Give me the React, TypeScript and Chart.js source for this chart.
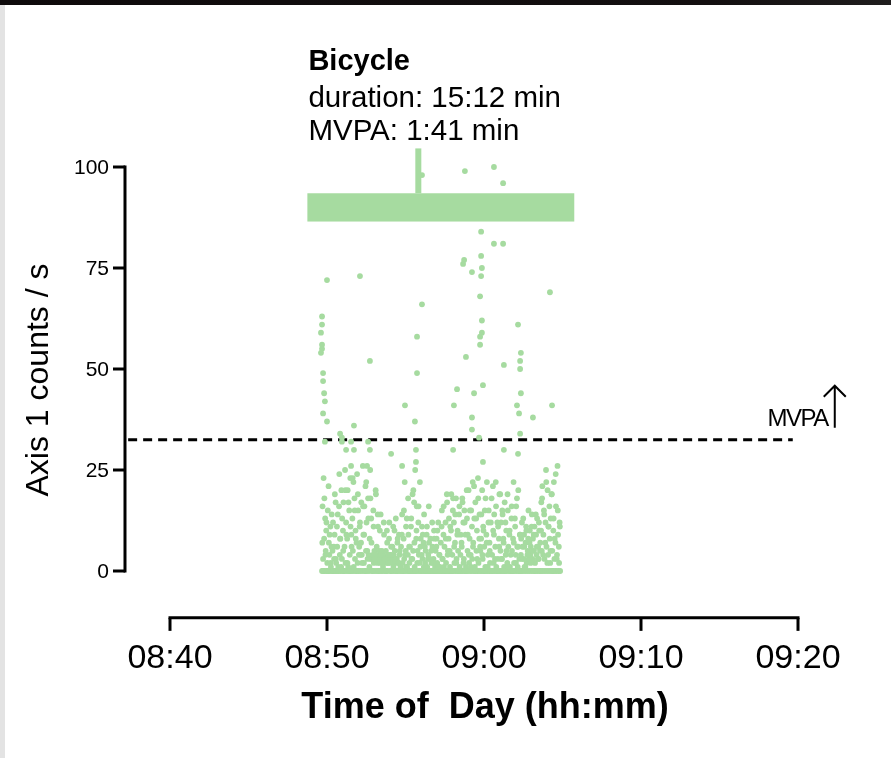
import { useEffect, useRef } from "react";
import { Chart, registerables } from "chart.js";
Chart.register(...registerables);

// Time axis: seconds after 08:40:00
const X_TICK_SEC = [0, 600, 1200, 1800, 2400];
const X_TICK_LABELS = ["08:40", "08:50", "09:00", "09:10", "09:20"];
const Y_TICKS = [0, 25, 50, 75, 100];

// Low-intensity cloud, every 2 s starting 08:49:41
const CLOUD_START_SEC = 581;
const CLOUD_STEP_SEC = 2;
const cloudCounts = [
  0, 16, 3, 23, 8, 0, 13, 5, 10, 0, 2, 15, 0, 7, 4, 0, 11, 1, 6,
  0, 5, 12, 0, 3, 9, 0, 17, 2, 0, 6, 14, 1, 0, 24, 4, 8, 0, 20,
  3, 0, 10, 17, 0, 6, 25, 2, 12, 0, 8, 20, 1, 0, 15, 4, 23, 0, 9,
  0, 13, 5, 22, 0, 18, 3, 10, 0, 7, 24, 2, 15, 0, 6, 11, 0, 4, 17,
  4, 0, 26, 9, 2, 16, 0, 21, 5, 12, 0, 3, 18, 4, 0, 8, 25, 3, 13,
  3, 0, 4, 15, 2, 5, 0, 3, 19, 4, 0, 2, 11, 3, 0, 5, 2, 14, 0,
  3, 2, 0, 4, 12, 3, 0, 2, 5, 3, 10, 0, 4, 2, 8, 3, 0, 4, 6,
  2, 0, 3, 11, 4, 0, 5, 2, 13, 0, 3, 7, 0, 2, 9, 4, 0, 1, 6,
  0, 14, 2, 0, 8, 3, 22, 0, 5, 1, 13, 0, 4, 9, 0, 2, 6, 0, 11,
  3, 0, 19, 5, 0, 17, 1, 25, 0, 8, 16, 2, 0, 12, 4, 0, 22, 6, 0,
  0, 11, 3, 0, 7, 14, 0, 2, 5, 0, 9, 1, 0, 4, 16, 0, 3, 8, 0,
  2, 0, 6, 0, 3, 10, 0, 1, 5, 0, 8, 2, 0, 12, 0, 4, 1, 0, 7,
  0, 15, 3, 0, 9, 1, 6, 0, 12, 2, 0, 17, 4, 0, 8, 0, 5, 11, 0,
  19, 0, 4, 15, 0, 12, 2, 7, 0, 18, 3, 0, 10, 5, 0, 14, 1, 0, 9,
  0, 6, 18, 0, 12, 3, 15, 0, 9, 1, 0, 13, 5, 0, 20, 2, 8, 0, 4,
  15, 0, 3, 22, 7, 0, 13, 1, 17, 0, 5, 10, 0, 23, 2, 0, 14, 6, 0,
  8, 0, 20, 3, 11, 0, 6, 15, 1, 0, 9, 22, 0, 4, 12, 0, 7, 2, 0,
  0, 18, 4, 0, 10, 2, 14, 0, 6, 22, 1, 0, 12, 3, 0, 8, 19, 0, 5,
  12, 0, 3, 14, 0, 7, 1, 17, 0, 4, 10, 0, 2, 15, 6, 0, 9, 1, 0,
  0, 13, 5, 0, 8, 22, 2, 0, 11, 4, 16, 0, 6, 1, 20, 0, 3, 9, 0,
  4, 0, 12, 6, 0, 3, 9, 1, 0, 7, 11, 2, 0, 5, 8, 3, 0, 10, 4,
  6, 0, 14, 3, 8, 0, 5, 11, 2, 0, 9, 4, 13, 0, 6, 3, 10, 0, 7,
  0, 17, 5, 21, 0, 9, 15, 3, 0, 12, 25, 6, 0, 20, 4, 11, 0, 8, 2,
  13, 0, 19, 5, 0, 10, 22, 3, 0, 7, 16, 0, 4, 26, 9, 0, 2, 12, 0,
];

// Extra low-intensity seconds, every 4 s starting 08:49:42
const CLOUD_B_START_SEC = 582;
const CLOUD_B_STEP_SEC = 4;
const cloudCountsB = [
  7, 0, 18, 4, 12, 0, 21, 9, 2, 14, 0, 6, 19, 3, 11, 0, 16, 8, 1,
  13, 5, 0, 20, 9, 2, 17, 0, 11, 6, 23, 1, 15, 8, 0, 19, 4, 12, 7,
  2, 16, 9, 0, 22, 5, 13, 1, 18, 7, 0, 11, 3, 20, 6, 14, 0, 10, 4,
  5, 1, 9, 3, 0, 7, 2, 12, 4, 0, 6, 1, 10, 3, 0, 8, 2, 5, 1,
  9, 0, 15, 4, 11, 1, 18, 6, 0, 13, 3, 20, 7, 0, 10, 5, 16, 2, 8,
  4, 9, 1, 6, 0, 11, 3, 7, 0, 5, 12, 2, 8, 0, 6, 10, 1, 4, 0,
  11, 3, 16, 0, 8, 19, 5, 13, 1, 10, 0, 18, 6, 14, 2, 9, 0, 16, 4,
  7, 17, 2, 12, 0, 20, 9, 4, 15, 1, 11, 6, 21, 0, 13, 3, 18, 8, 5,
  14, 4, 10, 0, 18, 7, 1, 15, 5, 12, 0, 21, 9, 3, 16, 0, 11, 6, 19,
  3, 15, 8, 0, 12, 5, 19, 1, 10, 4, 16, 0, 7, 13, 2, 18, 6, 0, 9,
  8, 3, 13, 6, 1, 10, 4, 15, 7, 2, 11, 5, 9, 0, 14, 6, 3, 12, 5,
  10, 18, 4, 14, 7, 22, 2, 11, 16, 5, 19, 0, 13, 8, 24, 3, 15, 6, 11,
];

// Higher-intensity seconds (time in s after 08:40, counts/s)
const burstSec = [
  1127, 1238, 963, 1273, 1189, 1238, 1273, 1189, 1124, 1120, 1192, 1154, 1189, 600, 726,
  1452, 1185, 963, 581, 1192, 581, 1330, 577, 1192, 1185, 944, 581, 581, 577, 1185,
  1341, 1131, 764, 1338, 1276, 1338, 585, 944, 585, 1196, 1097, 589, 1162, 1341, 592,
  898, 1085, 1326, 1460, 585, 1334, 600, 1387, 1154, 703, 936, 1154, 650, 657, 657,
  592, 692, 757, 673, 703, 764, 940, 845, 1082, 1196, 940, 887, 692, 753, 1181,
  1338, 1276, 1330,
];
const burstCounts = [
  99, 100, 98, 96, 84, 81, 81, 78, 77, 76, 75, 74, 73, 72, 73,
  69, 68, 66, 63, 62, 61, 61, 59, 59, 58, 58, 56, 55, 54, 56,
  54, 53, 52, 52, 51, 50, 49, 49, 47, 46, 45, 44, 44, 44, 42,
  41, 41, 41, 41, 39, 39, 37, 38, 38, 36, 37, 35, 34, 33, 32,
  32, 32, 32, 30, 30, 30, 30, 29, 30, 27, 27, 26, 26, 26, 33,
  34, 30, 29,
];

const MVPA_THRESHOLD = 32.5;
const THRESHOLD_LINE_SEC = [-160, 2380];

// Bout bar
const BOUT_START_SEC = 525;
const BOUT_END_SEC = 1545;
const BOUT_LOW = 86.5;
const BOUT_HIGH = 93.5;
const MARK_SEC = 949;
const MARK_TOP = 104.6;

const Y_AXIS_AT_SEC = -172;
const X_AXIS_AT = -11.6;

const GREEN = "rgb(166,219,160)";
const FONT = "'Liberation Sans', Arial, Helvetica, sans-serif";

const decorPlugin = {
  id: "decor",
  afterDatasetsDraw(chart: any) {
    const ctx = chart.ctx as CanvasRenderingContext2D;
    const xs = chart.scales.x;
    const ys = chart.scales.y;
    ctx.save();

    // bout bar + marker
    ctx.fillStyle = GREEN;
    const bx0 = xs.getPixelForValue(BOUT_START_SEC);
    const bx1 = xs.getPixelForValue(BOUT_END_SEC);
    const by0 = ys.getPixelForValue(BOUT_HIGH);
    const by1 = ys.getPixelForValue(BOUT_LOW);
    ctx.fillRect(bx0, by0, bx1 - bx0, by1 - by0);
    const mx = xs.getPixelForValue(MARK_SEC);
    const my = ys.getPixelForValue(MARK_TOP);
    ctx.fillRect(mx - 3, my, 6, by0 - my);

    // annotation text
    ctx.fillStyle = "#000";
    ctx.textAlign = "left";
    ctx.textBaseline = "alphabetic";
    ctx.font = `bold 29px ${FONT}`;
    ctx.fillText("Bicycle", bx0 + 1, my - 78);
    ctx.font = `29.5px ${FONT}`;
    ctx.fillText("duration: 15:12 min", bx0 + 1, my - 41);
    ctx.fillText("MVPA: 1:41 min", bx0 + 1, my - 8);

    // Y axis
    const ax = xs.getPixelForValue(Y_AXIS_AT_SEC);
    const y0 = ys.getPixelForValue(0);
    const y100 = ys.getPixelForValue(100);
    ctx.strokeStyle = "#000";
    ctx.lineWidth = 3;
    ctx.lineCap = "butt";
    ctx.beginPath();
    ctx.moveTo(ax, y100 - 1.5);
    ctx.lineTo(ax, y0 + 1.5);
    ctx.stroke();
    ctx.font = `21px ${FONT}`;
    ctx.textAlign = "right";
    ctx.textBaseline = "middle";
    Y_TICKS.forEach((t) => {
      const py = ys.getPixelForValue(t);
      ctx.beginPath();
      ctx.moveTo(ax - 12, py);
      ctx.lineTo(ax, py);
      ctx.stroke();
      ctx.fillText(String(t), ax - 16, py + 1);
    });

    // X axis
    const ay = ys.getPixelForValue(X_AXIS_AT);
    const x0 = xs.getPixelForValue(X_TICK_SEC[0]);
    const x1 = xs.getPixelForValue(X_TICK_SEC[X_TICK_SEC.length - 1]);
    ctx.beginPath();
    ctx.moveTo(x0 - 1.5, ay);
    ctx.lineTo(x1 + 1.5, ay);
    ctx.stroke();
    ctx.font = `34px ${FONT}`;
    ctx.textAlign = "center";
    ctx.textBaseline = "alphabetic";
    X_TICK_SEC.forEach((t, i) => {
      const px = xs.getPixelForValue(t);
      ctx.beginPath();
      ctx.moveTo(px, ay);
      ctx.lineTo(px, ay + 13);
      ctx.stroke();
      ctx.fillText(X_TICK_LABELS[i], px, ay + 50);
    });

    // axis titles
    ctx.font = `bold 36px ${FONT}`;
    ctx.fillText("Time of  Day (hh:mm)", xs.getPixelForValue(1200) + 1, ay + 100);
    ctx.save();
    ctx.translate(48, 380);
    ctx.rotate(-Math.PI / 2);
    ctx.font = `32px ${FONT}`;
    ctx.textAlign = "center";
    ctx.fillText("Axis 1 counts / s", 0, 0);
    ctx.restore();

    // MVPA label + arrow
    const ex = xs.getPixelForValue(THRESHOLD_LINE_SEC[1]);
    const ty = ys.getPixelForValue(MVPA_THRESHOLD);
    ctx.font = `24px ${FONT}`;
    (ctx as any).letterSpacing = "-1.5px";
    ctx.textAlign = "right";
    ctx.fillText("MVPA", ex + 35, ty - 14);
    (ctx as any).letterSpacing = "0px";
    ctx.lineWidth = 2;
    ctx.beginPath();
    ctx.moveTo(ex + 42, ty - 12);
    ctx.lineTo(ex + 42, ty - 54);
    ctx.moveTo(ex + 31, ty - 43);
    ctx.lineTo(ex + 42, ty - 54);
    ctx.lineTo(ex + 53, ty - 43);
    ctx.stroke();

    ctx.restore();
  },
};

export default function App() {
  const ref = useRef<HTMLCanvasElement>(null);
  useEffect(() => {
    if (!ref.current) return;
    const cloudA = cloudCounts.map((v, i) => ({ x: CLOUD_START_SEC + i * CLOUD_STEP_SEC, y: v }));
    const cloudB = cloudCountsB.map((v, i) => ({ x: CLOUD_B_START_SEC + i * CLOUD_B_STEP_SEC, y: v }));
    const burst = burstSec.map((t, i) => ({ x: t, y: burstCounts[i] }));
    const chart = new Chart(ref.current, {
      type: "scatter",
      data: {
        datasets: [
          {
            label: "counts",
            data: [...cloudA, ...cloudB, ...burst],
            pointRadius: 2.9,
            pointBackgroundColor: GREEN,
            pointBorderWidth: 0,
            borderWidth: 0,
            order: 1,
          } as any,
          {
            type: "line",
            label: "MVPA",
            data: THRESHOLD_LINE_SEC.map((t) => ({ x: t, y: MVPA_THRESHOLD })),
            borderColor: "#000",
            borderWidth: 3,
            borderDash: [9, 6],
            pointRadius: 0,
            fill: false,
            order: 2,
          } as any,
        ],
      },
      options: {
        responsive: false,
        maintainAspectRatio: false,
        devicePixelRatio: 1,
        animation: false,
        events: [],
        layout: { padding: { left: 91.5, right: 14.5, top: 45.8, bottom: 106.2 } },
        scales: {
          x: { type: "linear", display: false, min: -300, max: 2700 },
          y: { type: "linear", display: false, min: -20, max: 130 },
        },
        plugins: { legend: { display: false }, tooltip: { enabled: false } },
      },
      plugins: [decorPlugin],
    });
    return () => chart.destroy();
  }, []);

  return (
    <div style={{ position: "fixed", left: 0, top: 0, width: 891, height: 758, background: "#fff" }}>
      <div
        style={{
          position: "absolute",
          left: 0,
          top: 0,
          width: 891,
          height: 5,
          background: "linear-gradient(90deg,#0e0a0b,#130f10 80%,#1f1d1d)",
        }}
      />
      <div style={{ position: "absolute", left: 0, top: 5, width: 5, height: 753, background: "#e3e3e3" }} />
      <canvas ref={ref} width={891} height={758} style={{ position: "absolute", left: 0, top: 0 }} />
    </div>
  );
}
